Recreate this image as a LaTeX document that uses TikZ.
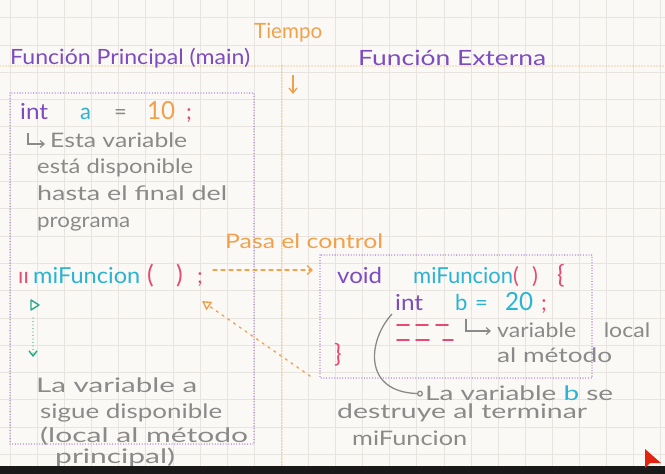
\documentclass[tikz,border=0pt]{standalone}
\usepackage{fontspec}
\setmainfont{Lato}
\usetikzlibrary{arrows.meta}
\definecolor{bg}{HTML}{FBF9F5}
\definecolor{gridc}{HTML}{E8E4DF}
\definecolor{purp}{HTML}{7D4CC0}
\definecolor{boxp}{HTML}{9966D6}
\definecolor{cyn}{HTML}{2AB3D3}
\definecolor{org}{HTML}{F2A14A}
\definecolor{pnk}{HTML}{E64A74}
\definecolor{gry}{HTML}{8A8A8A}
\definecolor{grn}{HTML}{27A98B}
\definecolor{curs}{HTML}{E2230F}
\newlength\tmpw
\newcommand{\fw}[2]{\settowidth{\tmpw}{#2}\pgfmathsetmacro\sxf{#1/\tmpw}\scalebox{\sxf}[1]{#2}}
\tikzset{
  txt/.style={inner sep=0pt, anchor=base west, font=\fontsize{20}{24}\selectfont},
  code/.style={inner sep=0pt, anchor=base west, font=\fontsize{22}{26}\selectfont},
  head/.style={inner sep=0pt, anchor=base west, font=\fontsize{21}{25}\selectfont},
  big/.style={inner sep=0pt, anchor=base west, font=\fontsize{25}{28}\selectfont},
  dotbox/.style={boxp, line width=1.3pt, line cap=round, dash pattern=on 0pt off 2.7pt},
  orgdots/.style={org, line width=1.4pt, line cap=round, dash pattern=on 0pt off 3pt},
  pinkdash/.style={pnk, line width=1.6pt, line cap=round},
}
\begin{document}
\begin{tikzpicture}[x=1pt,y=-1pt]
\useasboundingbox (0,0) rectangle (665,474);
\fill[bg] (0,0) rectangle (665,474);
% grid
\foreach \i in {0,...,24} \draw[gridc, line width=0.8pt] ({10.3+27.1*\i},0) -- ++(0,474);
\foreach \j in {0,...,17} \draw[gridc, line width=0.8pt] (0,{17.6+27.3*\j}) -- ++(665,0);
% time axis
\draw[orgdots] (0,66) -- (665,66);
\draw[orgdots] (282,66) -- (282,466);
% headings
\node[head, text=org] (tiempo) at (254,38) {\fw{68}{Tiempo}};
\node[head, text=purp] (hmain) at (10,64) {\fw{240}{Función Principal (main)}};
\node[head, text=purp] (hext) at (358,65) {\fw{188}{Función Externa}};
\coordinate (tdown1) at (293,75);
\coordinate (tdown2) at (293,94);
\draw[org, line width=1.3pt, -{Straight Barb[length=5pt,width=8pt]}] (tdown1) -- (tdown2);
% boxes
\draw[dotbox] (10,93) rectangle (254,444);
\draw[dotbox] (320,255) rectangle (592,378);
% int a = 10;
\node[code, text=purp] (inta) at (20,119) {\fw{28}{int}};
\node[code, text=cyn] (va) at (80,119) {a};
\node[code, text=gry] (eqa) at (114,119) {=};
\node[big, text=org] (ten) at (147,119) {\fw{28}{10}};
\node[code, text=pnk] (semia) at (186,119) {;};
% annotation a
\coordinate (hk1) at (28,133);
\coordinate (hk2) at (28,144);
\coordinate (hk3) at (45,144);
\draw[gry, line width=1.2pt, -{Straight Barb[length=4pt,width=7pt]}] (hk1) -- (hk2) -- (hk3);
\node[txt, text=gry] (a1) at (50,147) {\fw{137}{Esta variable}};
\node[txt, text=gry] (a2) at (37,173) {\fw{156}{está disponible}};
\node[txt, text=gry] (a3) at (37,200) {\fw{190}{hasta el final del}};
\node[txt, text=gry] (a4) at (37,227) {\fw{93}{programa}};
% call
\node[txt, text=org] (pasa) at (225,248) {\fw{158}{Pasa el control}};
\node[code, text=pnk] (cmt) at (18,283) {ıı};
\node[code, text=cyn] (call) at (33,283) {\fw{107}{miFuncion}};
\node[big, text=pnk] (po1) at (147,283) {(};
\node[big, text=pnk] (pc1) at (176,283) {)};
\node[code, text=pnk] (semic) at (197,283) {;};
\coordinate (callout) at (213,270);
\coordinate (callin) at (313,270);
\draw[org, line width=1.3pt, line cap=round, dash pattern=on 4pt off 4pt, -{Straight Barb[length=5pt,width=9pt]}] (callout) -- (callin);
\coordinate (retfrom) at (310,376);
\coordinate (retto) at (202,301);
\draw[org, line width=1.4pt, line cap=round, dash pattern=on 2pt off 5pt, -{Triangle[open,length=9pt,width=10pt]}] (retfrom) -- (retto);
% green arrow
\draw[grn, line width=1.4pt, line join=round] (31,300) -- (39,305) -- (31,310) -- cycle;
\coordinate (g1) at (33,318);
\coordinate (g2) at (33,357);
\draw[grn, line width=1.4pt, line cap=round, dash pattern=on 0pt off 3.5pt, -{Straight Barb[length=5pt,width=8pt]}] (g1) -- (g2);
% external function
\node[code, text=purp] (void) at (337,283) {\fw{45}{void}};
\node[code, text=cyn] (fdef) at (413,283) {\fw{100}{miFuncion}};
\node[code, text=pnk] (po2) at (513,283) {(};
\node[code, text=pnk] (pc2) at (532,283) {)};
\node[big, text=pnk] (ob) at (557,283) {\{};
\node[code, text=purp] (intb) at (395,310) {\fw{28}{int}};
\node[code, text=cyn] (vb) at (455,310) {b};
\node[code, text=cyn] (eqb) at (475,310) {=};
\node[big, text=cyn] (twenty) at (505,310) {\fw{28}{20}};
\node[code, text=pnk] (semib) at (541,310) {;};
\draw[pinkdash] (397,325) -- (409,325);
\draw[pinkdash] (416,325) -- (428,325);
\draw[pinkdash] (436,325) -- (448,325);
\draw[pinkdash] (397,340) -- (409,340);
\draw[pinkdash] (416,340) -- (429,340);
\draw[pinkdash] (443,340) -- (453,340);
\node[big, text=pnk] (cb) at (334,362) {\}};
\coordinate (hb1) at (466,319);
\coordinate (hb2) at (466,331);
\coordinate (hb3) at (491,331);
\draw[gry, line width=1.2pt, -{Straight Barb[length=4pt,width=7pt]}] (hb1) -- (hb2) -- (hb3);
\node[txt, text=gry] (loc1) at (497,337) {\fw{153}{variable\hspace{1.2em}local}};
\node[txt, text=gry] (loc2) at (497,362) {\fw{115}{al método}};
% destroy note
\node[txt, text=gry] (d1) at (425,400) {\fw{188}{La variable \textcolor{cyn}{b} se}};
\node[txt, text=gry] (d2) at (337,418) {\fw{250}{destruye al terminar}};
\node[txt, text=gry] (d3) at (352,445) {\fw{115}{miFuncion}};
\coordinate (cstart) at (392,314);
\draw[gry, line width=1.3pt, -{Circle[open,length=6pt]}] (cstart) .. controls (368,340) and (362,392) .. ([xshift=-2pt,yshift=-1pt]d1.west);
% a stays note
\node[txt, text=gry] (s1) at (36,392) {\fw{161}{La variable a}};
\node[txt, text=gry] (s2) at (40,418) {\fw{182}{sigue disponible}};
\node[txt, text=gry] (s3) at (40,442) {\fw{208}{(local al método}};
\node[txt, text=gry] (s4) at (55,463) {\fw{120}{principal)}};
% bottom bar and cursor
\fill[black!90] (0,466) rectangle (665,474);
\fill[curs] (645,449) -- (645,468) -- (650,463) -- (661,463) -- cycle;
\end{tikzpicture}
\end{document}
